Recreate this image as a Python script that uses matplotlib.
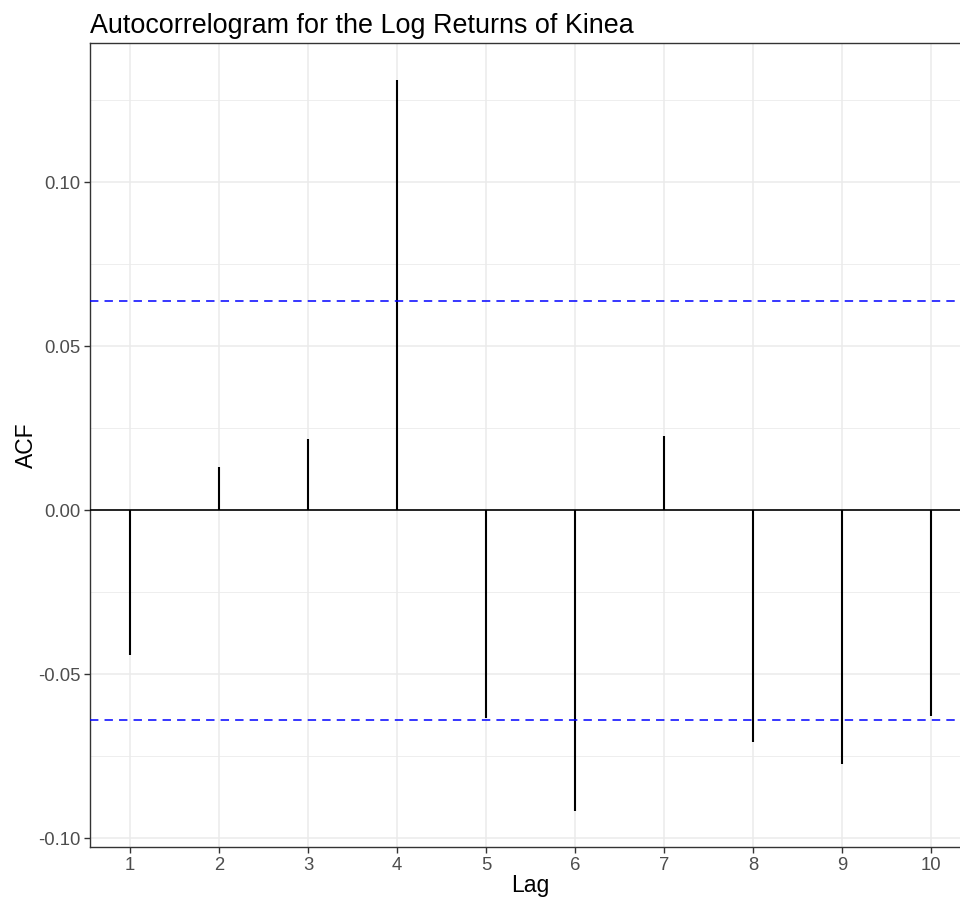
import matplotlib
matplotlib.use("Agg")
import matplotlib.pyplot as plt
import numpy as np

plt.rcParams['font.family'] = ['Liberation Sans', 'DejaVu Sans']

lags = [1, 2, 3, 4, 5, 6, 7, 8, 9, 10]
acf_values = [-0.0441, 0.0132, 0.0218, 0.1312, -0.0634, -0.0916, 0.0226, -0.0707, -0.0774, -0.0626]
ci_bound = 0.0638
y_ticks = [-0.10, -0.05, 0.00, 0.05, 0.10]
y_tick_labels = ["-0.10", "-0.05", "0.00", "0.05", "0.10"]
y_minor = [-0.075, -0.025, 0.025, 0.075, 0.125]
title = "Autocorrelogram for the Log Returns of Kinea"

W, H = 960, 897
fig = plt.figure(figsize=(W / 100, H / 100), dpi=100)
ax = fig.add_axes([90 / W, (H - 847) / H, (971 - 90) / W, (847 - 43) / H])

ax.set_xlim(0.55, 10.45)
ax.set_ylim(-0.1026, 0.1424)

ax.set_yticks(y_ticks)
ax.set_yticklabels(y_tick_labels)
ax.set_yticks(y_minor, minor=True)
ax.set_xticks(lags)
ax.set_xticklabels([str(l) for l in lags])

ax.grid(True, which='major', color='#EBEBEB', linewidth=1.1)
ax.grid(True, which='minor', axis='y', color='#EBEBEB', linewidth=0.6)
ax.set_axisbelow(True)

ax.axhline(0, color='black', linewidth=1.2, zorder=3)
ax.vlines(lags, 0, acf_values, color='black', linewidth=1.5, zorder=3)
for s in (ci_bound, -ci_bound):
    ax.axhline(s, color='blue', linewidth=1.1, linestyle=(0, (5.5, 4)), zorder=4)

for sp in ax.spines.values():
    sp.set_color('#333333')
    sp.set_linewidth(1.0)

ax.tick_params(axis='both', which='major', length=4, width=1.0, color='#333333',
               labelcolor='#4D4D4D', labelsize=13.3, pad=3)
ax.tick_params(axis='y', which='minor', length=0)

ax.set_xlabel("Lag", fontsize=16.5, color='black', labelpad=0)
ax.set_ylabel("ACF", fontsize=16.5, color='black', labelpad=0)
ax.set_title(title, fontsize=19.4, loc='left', pad=7, color='black')

fig.savefig("out.png", dpi=100)
